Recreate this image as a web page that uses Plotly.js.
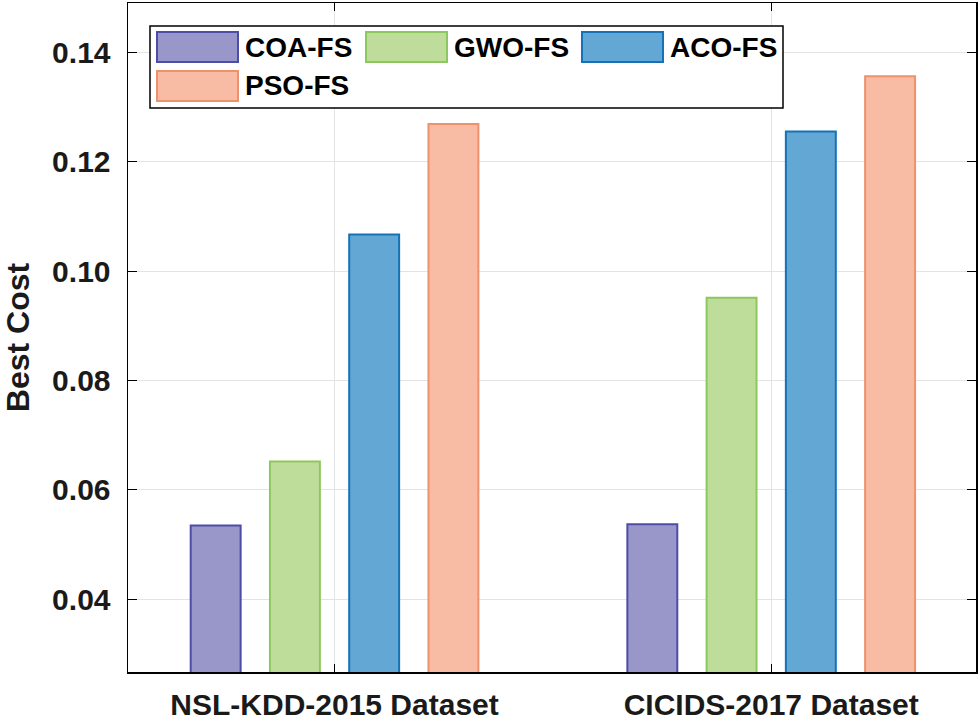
<!DOCTYPE html>
<html>
<head>
<meta charset="utf-8">
<script src="https://cdn.plot.ly/plotly-3.0.1.min.js"></script>
<style>
  html, body { margin: 0; padding: 0; background: #fff; }
  #chart { width: 980px; height: 721px; }
</style>
</head>
<body>
<div id="chart"></div>
<script>
// categories on the x axis
var datasets = ['NSL-KDD-2015 Dataset', 'CICIDS-2017 Dataset'];

// best cost per method
var coaValues = [0.0535, 0.0537];
var gwoValues = [0.0652, 0.0951];
var acoValues = [0.1067, 0.1255];
var psoValues = [0.1269, 0.1356];

var methodNames = ['COA-FS', 'GWO-FS', 'ACO-FS', 'PSO-FS'];
var methodValues = [coaValues, gwoValues, acoValues, psoValues];

var fillColors = ['#9996ca', '#bedd9a', '#63a7d4', '#f7bca3'];
var edgeColors = ['#4d4ca7', '#8dc85d', '#1472b8', '#ee916d'];

var yTicks = [0.04, 0.06, 0.08, 0.10, 0.12, 0.14];

var fontFamily = '"Liberation Sans", Arial, sans-serif';

var data = [];
for (var i = 0; i < methodNames.length; i++) {
  data.push({
    type: 'bar',
    name: methodNames[i],
    x: datasets,
    y: methodValues[i],
    showlegend: false,
    marker: {
      color: fillColors[i],
      line: { color: edgeColors[i], width: 2 }
    },
    hoverinfo: 'x+y+name'
  });
}

// plot area in pixels
var W = 980, H = 721;
var margin = { l: 128, r: 4, t: 3, b: 49, pad: 0 };
var plotW = W - margin.l - margin.r;
var plotH = H - margin.t - margin.b;
function px(x) { return (x - margin.l) / plotW; }
function py(y) { return (H - margin.b - y) / plotH; }

// matlab style legend drawn as shapes + text (3 columns)
var legendCols = [157, 366, 582];
var legendRows = [47, 86];
var swatchW = 81, swatchH = 30;
var shapes = [{
  type: 'rect', xref: 'paper', yref: 'paper',
  x0: px(150), x1: px(783), y0: py(108), y1: py(26),
  fillcolor: '#ffffff', line: { color: '#000000', width: 1.5 }, layer: 'above'
}];
var annotations = [];
for (var k = 0; k < methodNames.length; k++) {
  var cx = legendCols[k % 3];
  var cy = legendRows[Math.floor(k / 3)];
  shapes.push({
    type: 'rect', xref: 'paper', yref: 'paper',
    x0: px(cx), x1: px(cx + swatchW), y0: py(cy + swatchH / 2), y1: py(cy - swatchH / 2),
    fillcolor: fillColors[k], line: { color: edgeColors[k], width: 2 }, layer: 'above'
  });
  annotations.push({
    xref: 'paper', yref: 'paper', x: px(cx + swatchW + 5), y: py(cy),
    xanchor: 'left', yanchor: 'middle', showarrow: false,
    text: methodNames[k],
    font: { family: fontFamily, size: 28, color: '#000', weight: 700 }
  });
}

var layout = {
  width: W, height: H,
  margin: margin,
  paper_bgcolor: '#ffffff',
  plot_bgcolor: '#ffffff',
  barmode: 'group',
  bargap: 0.274,
  bargroupgap: 0.37,
  font: { family: fontFamily, size: 30, color: '#1a1a1a', weight: 700 },
  xaxis: {
    type: 'category',
    range: [-0.473, 1.469],
    showgrid: true, gridcolor: '#e3e3e3', gridwidth: 1,
    showline: true, linecolor: '#000', linewidth: 1.5, mirror: 'ticks',
    ticks: 'inside', ticklen: 8, tickcolor: '#000', tickwidth: 1,
    ticklabelstandoff: 5,
    tickfont: { family: fontFamily, size: 30, color: '#1a1a1a', weight: 700 },
    zeroline: false, fixedrange: true
  },
  yaxis: {
    range: [0.0267, 0.149],
    tickvals: yTicks,
    tickformat: '.2f',
    showgrid: true, gridcolor: '#e3e3e3', gridwidth: 1,
    showline: true, linecolor: '#000', linewidth: 1.5, mirror: 'ticks',
    ticks: 'inside', ticklen: 9, tickcolor: '#000', tickwidth: 1,
    ticklabelstandoff: 10,
    tickfont: { family: fontFamily, size: 30, color: '#1a1a1a', weight: 700 },
    title: {
      text: 'Best Cost',
      standoff: 36,
      font: { family: fontFamily, size: 32, color: '#1a1a1a', weight: 700 }
    },
    zeroline: false, fixedrange: true
  },
  shapes: shapes,
  annotations: annotations
};

Plotly.newPlot('chart', data, layout, { staticPlot: true, displayModeBar: false });
</script>
</body>
</html>
